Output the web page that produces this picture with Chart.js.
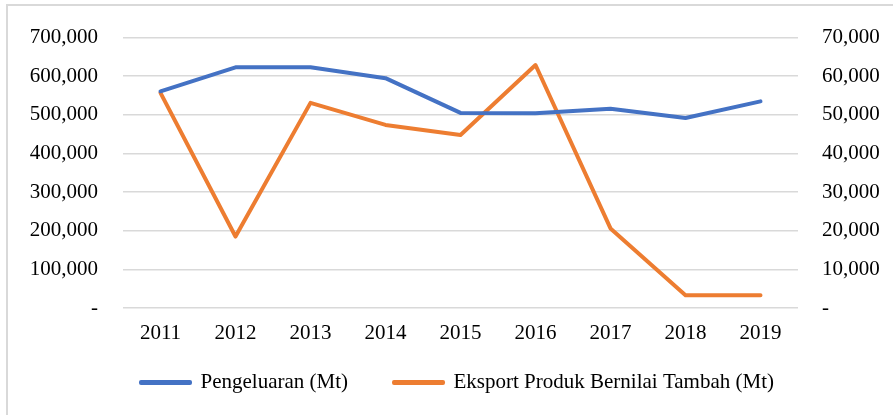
<!DOCTYPE html>
<html>
<head>
<meta charset="utf-8">
<script src="https://cdn.jsdelivr.net/npm/chart.js@4/dist/chart.umd.min.js"></script>
<style>
  html, body { margin: 0; padding: 0; background: #fff; }
  #wrap { position: relative; width: 893px; height: 415px; overflow: hidden; }
  #frame { position: absolute; left: 6px; top: 4px; width: 900px; height: 420px; border: 2px solid #d9d9d9; box-sizing: border-box; }
  canvas { position: absolute; left: 0; top: 0; }
</style>
</head>
<body>
<div id="wrap">
  <div id="frame"></div>
  <canvas id="c" width="893" height="415"></canvas>
</div>
<script>
const years = ['2011', '2012', '2013', '2014', '2015', '2016', '2017', '2018', '2019'];
const pengeluaran = [561000, 623000, 623000, 595000, 505000, 504000, 516000, 492000, 535000];
const eksport = [55700, 18500, 53100, 47400, 44800, 62900, 20600, 3300, 3300];
const seriesNames = ['Pengeluaran (Mt)', 'Eksport Produk Bernilai Tambah (Mt)'];

const FONT = { family: '"Liberation Serif", "Times New Roman", serif', size: 21 };
const fmt = v => v === 0 ? '-' : Number(v).toLocaleString('en-US');

// let the x-axis year labels extend below the (short) axis box without clipping
const xLabelRoom = {
  id: 'xLabelRoom',
  afterLayout(chart) { chart.scales.x.bottom = chart.scales.x.top + 40; }
};

new Chart(document.getElementById('c'), {
  type: 'line',
  data: {
    labels: years,
    datasets: [
      { label: seriesNames[0], data: pengeluaran, yAxisID: 'y',
        borderColor: '#4472C4', backgroundColor: '#4472C4', borderWidth: 4,
        pointRadius: 0, tension: 0, borderCapStyle: 'round', borderJoinStyle: 'round' },
      { label: seriesNames[1], data: eksport, yAxisID: 'y1',
        borderColor: '#ED7D31', backgroundColor: '#ED7D31', borderWidth: 4,
        pointRadius: 0, tension: 0, borderCapStyle: 'round', borderJoinStyle: 'round' }
    ]
  },
  plugins: [xLabelRoom],
  options: {
    responsive: false,
    animation: false,
    devicePixelRatio: 1,
    layout: { padding: { top: 34, left: 22, right: 0, bottom: 12 } },
    plugins: {
      tooltip: { enabled: false },
      legend: {
        position: 'bottom',
        labels: { font: FONT, color: '#000', boxWidth: 49, boxHeight: 1, padding: 46 }
      }
    },
    scales: {
      x: {
        offset: true,
        grid: { display: false, drawTicks: false },
        border: { display: false },
        ticks: { font: FONT, color: '#000', padding: 13, maxRotation: 0 },
        afterFit: s => { s.height = 18; }
      },
      y: {
        position: 'left',
        min: 0, max: 700000,
        grid: { color: '#d9d9d9', lineWidth: 1.5, drawTicks: false },
        border: { display: false },
        ticks: { stepSize: 100000, font: FONT, color: '#000', padding: 25, callback: fmt },
        afterFit: s => { s.width = 101; }
      },
      y1: {
        position: 'right',
        min: 0, max: 70000,
        grid: { display: false, drawTicks: false },
        border: { display: false },
        ticks: { stepSize: 10000, font: FONT, color: '#000', padding: 24, callback: fmt },
        afterFit: s => { s.width = 95; }
      }
    }
  }
});
</script>
</body>
</html>
